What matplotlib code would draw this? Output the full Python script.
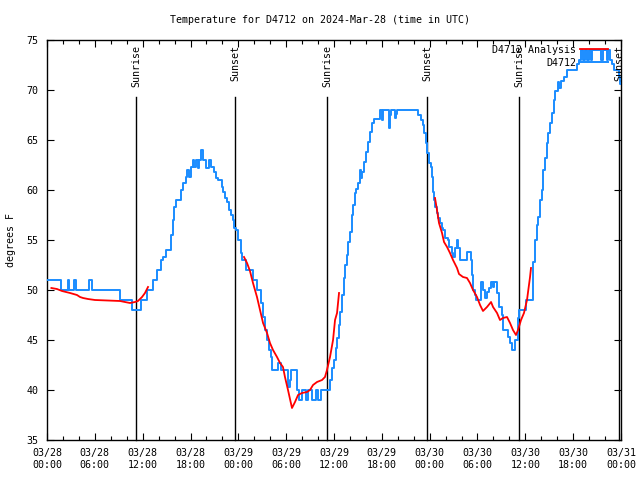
import matplotlib
matplotlib.use("Agg")
import matplotlib.pyplot as plt
import numpy as np

# ---- data (hours since 2024-03-28 00:00 UTC) ----
obs_h = [0.00, 1.80, 2.60, 2.80, 3.35, 3.60, 5.30, 5.70, 9.10, 10.60, 11.85, 12.60,
         13.30, 13.80, 14.30, 14.60, 14.95, 15.60, 15.75, 15.95, 16.20, 16.80, 17.10,
         17.40, 17.60, 17.80, 18.10, 18.30, 18.50, 18.70, 18.90, 19.10, 19.30, 19.60,
         19.90, 20.30, 20.55, 20.90, 21.20, 21.50, 21.90, 22.10, 22.30, 22.55, 22.80,
         23.05, 23.30, 23.45, 23.70, 23.95, 24.30, 24.50, 24.95, 25.80, 26.30, 26.90,
         27.10, 27.30, 27.60, 27.85, 28.05, 28.25, 29.00, 29.30, 30.20, 30.45, 30.65,
         31.35, 31.60, 32.00, 32.50, 32.70, 33.20, 33.70, 34.00, 34.40, 35.55, 35.75,
         35.95, 36.20, 36.40, 36.60, 36.80, 37.00, 37.20, 37.40, 37.60, 37.80, 38.00,
         38.20, 38.40, 38.60, 38.80, 39.00, 39.20, 39.35, 39.55, 39.75, 40.00, 40.25,
         40.50, 40.75, 41.00, 41.75, 42.00, 42.15, 42.90, 43.05, 43.15, 43.60, 43.80,
         43.95, 46.54, 46.91, 47.16, 47.29, 47.54, 47.67, 47.92, 48.17, 48.29, 48.42,
         48.54, 48.67, 48.92, 49.05, 49.30, 49.55, 49.67, 49.92, 50.30, 50.43, 50.80,
         50.93, 51.18, 51.43, 51.55, 51.81, 52.43, 52.68, 53.19, 53.31, 53.44, 53.69,
         53.81, 54.44, 54.69, 54.94, 55.19, 55.44, 55.70, 55.95, 56.07, 56.45, 56.70,
         57.07, 57.20, 57.83, 58.08, 58.33, 58.70, 59.08, 59.21, 60.08, 60.96, 61.21,
         61.46, 61.59, 61.84, 62.09, 62.22, 62.47, 62.72, 62.84, 63.09, 63.35, 63.60,
         63.72, 64.10, 64.22, 64.48, 64.85, 65.23, 66.48, 66.73, 66.98, 67.24, 67.49,
         67.74, 67.99, 68.24, 68.36, 69.49, 69.75, 70.24, 70.37, 70.62, 70.87, 71.12,
         71.50, 71.75, 71.87, 72.00]
obs_t = [51, 50, 51, 50, 51, 50, 51, 50, 49, 48, 49, 50,
         51, 52, 53, 53.3, 54, 55.5, 57, 58.3, 59, 60, 60.7,
         61.3, 62, 61.3, 62.3, 63, 62.3, 63, 62.2, 63, 64, 63,
         62.2, 63, 62.3, 61.8, 61.2, 61, 60.3, 59.8, 59.2, 58.8, 58,
         57.5, 57, 56.2, 56, 55, 53.7, 53, 52, 51, 50, 48.7,
         47.3, 46, 45, 44, 43.3, 42, 42.7, 42, 40.3, 41, 42,
         40, 39, 40, 39, 40, 39, 40, 39, 40, 41, 42.2,
         43, 44.2, 45.2, 46.5, 47.8, 49.5, 51.2, 52.5, 53.5, 54.8, 55.8,
         57.5, 58.5, 59.7, 60.1, 60.7, 62, 61.2, 61.8, 62.8, 63.8, 64.8,
         65.8, 66.7, 67.1, 68, 67, 68, 66.2, 67.5, 68, 67.2, 67.6,
         68, 67.5, 67, 66.5, 65.7, 64.7, 63.7, 62.7, 62.3, 61.3, 59.8,
         59, 58.3, 57.7, 57.2, 56.7, 56.2, 56, 55.2, 55, 54.3, 53.7,
         53.3, 54.2, 55, 54.2, 53, 53, 53.8, 53, 51.5, 50, 49.5,
         49, 50.8, 50, 49.2, 49.8, 50.2, 50.8, 50.3, 50.8, 49.7, 48.3,
         47.5, 46, 45.3, 44.7, 44, 45, 47.2, 48, 49, 52.8, 55,
         56.5, 57.3, 59, 60, 62, 63.2, 64.7, 65.7, 66.7, 67.7, 69,
         69.9, 70.8, 70.2, 70.9, 71.3, 72, 72.6, 73, 74, 73, 74,
         73, 74, 73, 74, 73, 74, 73, 74, 73, 72.6, 72,
         72, 71.3, 70.6, 70.6]

ana1_h = [0.55, 1.25, 1.88, 2.89, 3.76, 4.14, 4.52, 5.14, 6.02, 9.16, 9.78, 10.41,
          11.04, 11.41, 11.92, 12.29, 12.67]
ana1_t = [50.2, 50.1, 49.9, 49.7, 49.5, 49.3, 49.2, 49.1, 49.0, 48.9, 48.8, 48.7,
          48.8, 48.9, 49.3, 49.7, 50.3]
ana2_h = [24.71, 25.09, 25.46, 25.84, 26.34, 26.72, 27.10, 27.60, 27.97, 28.35, 28.85,
          29.23, 29.60, 29.85, 30.23, 30.73, 31.11, 31.49, 31.99, 32.61, 32.99, 33.37,
          33.87, 34.50, 34.87, 35.12, 35.50, 35.88, 36.13, 36.38, 36.63]
ana2_t = [53.3, 52.7, 51.9, 50.7, 49.3, 48.0, 46.7, 45.7, 44.7, 44.0, 43.3,
          42.7, 42.3, 41.3, 40.0, 38.2, 38.8, 39.5, 39.7, 39.8, 40.0, 40.5,
          40.8, 41.0, 41.3, 42.0, 43.3, 45.0, 47.0, 47.7, 49.7]
ana3_h = [48.67, 48.92, 49.17, 49.55, 49.80, 50.18, 50.55, 50.93, 51.43, 51.68, 52.18,
          52.68, 53.06, 53.44, 53.94, 54.32, 54.69, 55.19, 55.70, 55.95, 56.45, 56.82,
          57.20, 57.70, 58.08, 58.45, 58.83, 59.08, 59.46, 59.83, 60.21, 60.34, 60.59,
          60.71]
ana3_t = [59.2, 58.0, 56.7, 55.7, 54.8, 54.3, 53.7, 53.0, 52.2, 51.6, 51.3,
          51.2, 50.7, 50.0, 49.3, 48.5, 47.9, 48.3, 48.8, 48.3, 47.7, 47.0,
          47.2, 47.3, 46.7, 46.0, 45.5, 46.0, 47.0, 47.7, 49.0, 49.8, 51.3,
          52.2]

sun_h = [11.17, 23.58, 35.12, 47.67, 59.21, 71.75]
sun_lbl = ["Sunrise", "Sunset", "Sunrise", "Sunset", "Sunrise", "Sunset"]

xtick_h = list(range(0, 73, 6))
xtick_lbl = ["03/28\n00:00", "03/28\n06:00", "03/28\n12:00", "03/28\n18:00",
             "03/29\n00:00", "03/29\n06:00", "03/29\n12:00", "03/29\n18:00",
             "03/30\n00:00", "03/30\n06:00", "03/30\n12:00", "03/30\n18:00",
             "03/31\n00:00"]
yticks = [35, 40, 45, 50, 55, 60, 65, 70, 75]

title = "Temperature for D4712 on 2024-Mar-28 (time in UTC)"

# ---- drawing ----
FONT = "DejaVu Sans Mono"
FS = 7.2
plt.rcParams['font.family'] = [FONT]

fig = plt.figure(figsize=(6.4, 4.8), dpi=100)
ax = fig.add_axes([47/640, 1-440/480, (621-47)/640, 400/480])

blue = "#1a8cff"
red = "#ff0000"
lo, = ax.plot(obs_h, obs_t, color=blue, lw=1.4, drawstyle="steps-post", label="D4712", zorder=3)
la, = ax.plot(ana1_h, ana1_t, color=red, lw=1.3, label="D4712 Analysis", zorder=4)
ax.plot(ana2_h, ana2_t, color=red, lw=1.3, zorder=4)
ax.plot(ana3_h, ana3_t, color=red, lw=1.3, zorder=4)

for h, lab in zip(sun_h, sun_lbl):
    ax.plot([h, h], [35, 69.3], color="black", lw=1.0, zorder=2, clip_on=False)
    ax.text(h, 74.5, lab, rotation=90, ha="center", va="top", fontsize=FS,
            family=FONT, clip_on=False, zorder=5)

ax.set_xlim(0, 72)
ax.set_ylim(35, 75)
ax.set_xticks(xtick_h)
ax.set_xticklabels(xtick_lbl, fontsize=FS, family=FONT)
ax.set_xticks(list(range(0, 73, 2)), minor=True)
ax.set_yticks(yticks)
ax.set_yticklabels([str(v) for v in yticks], fontsize=FS, family=FONT)
ax.tick_params(axis="both", which="major", direction="in", length=5, width=0.8,
               top=True, right=True, pad=6)
ax.tick_params(axis="x", which="minor", direction="in", length=3, width=0.8, top=True)
for s in ax.spines.values():
    s.set_linewidth(1.0)

ax.set_ylabel("degrees F", fontsize=FS, family=FONT, labelpad=8)
fig.text(0.5, 1-20/480, title, ha="center", va="center", fontsize=FS, family=FONT)

leg = ax.legend(handles=[la, lo], loc="upper right", markerfirst=False, frameon=False,
                fontsize=FS, handlelength=2.8, handletextpad=0.4, labelspacing=0.3,
                borderaxespad=0.2, borderpad=0.3,
                bbox_to_anchor=(1 - 8/574, 1.0))

fig.savefig("out.png", dpi=100)
